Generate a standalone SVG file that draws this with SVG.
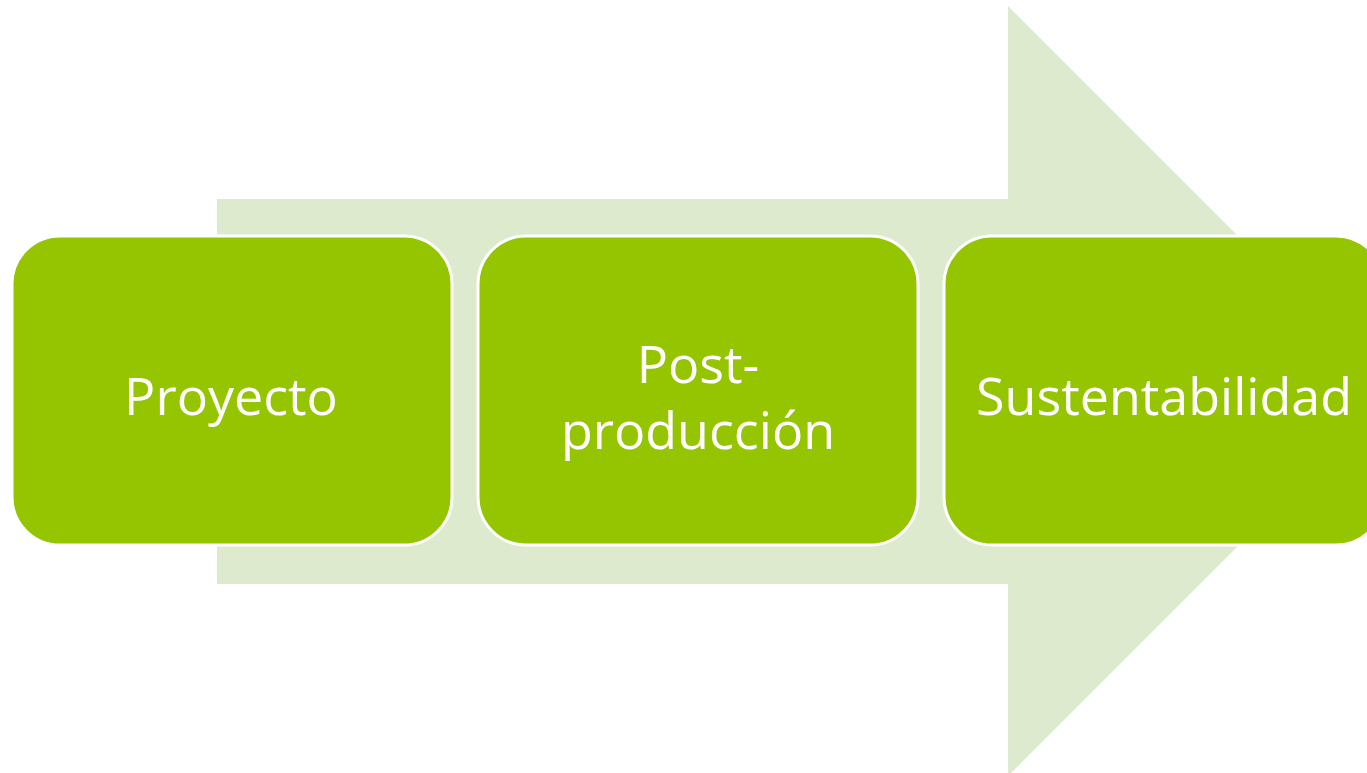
<svg xmlns="http://www.w3.org/2000/svg" width="1367" height="773" viewBox="0 0 1367 773">
  <style>
    .box { fill: #95C500; stroke: #FFFFFF; stroke-width: 3; }
    .lbl { font-family: "Open Sans", "Liberation Sans", sans-serif; font-size: 52px; fill: #FFFFFF; text-anchor: middle; }
  </style>
  <rect width="1367" height="773" fill="#FFFFFF"/>
  <g id="connectors">
    <polygon id="big-arrow" points="217,199 1008,199 1008,6 1393,391 1008,776 1008,584 217,584" fill="#DDEACD"/>
  </g>
  <g id="node-proyecto">
    <rect class="box" x="12" y="236" width="440" height="309" rx="48" ry="48"/>
    <text class="lbl" x="231" y="415">Proyecto</text>
  </g>
  <g id="node-postproduccion">
    <rect class="box" x="478" y="236" width="440" height="309" rx="48" ry="48"/>
    <text class="lbl" x="698" y="383">Post-</text>
    <text class="lbl" x="698" y="449">producción</text>
  </g>
  <g id="node-sustentabilidad">
    <rect class="box" x="944" y="236" width="440" height="309" rx="48" ry="48"/>
    <text class="lbl" x="1164" y="415">Sustentabilidad</text>
  </g>
</svg>
